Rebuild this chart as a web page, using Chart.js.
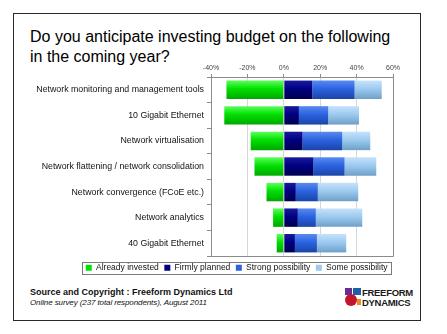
<!DOCTYPE html>
<html>
<head>
<meta charset="utf-8">
<script src="https://cdn.jsdelivr.net/npm/chart.js@4/dist/chart.umd.min.js"></script>
<style>
  html, body { margin: 0; padding: 0; background: #fff; }
  #wrap { position: relative; width: 447px; height: 334px; overflow: hidden; font-family: "Liberation Sans", Arial, sans-serif; }
  #frame { position: absolute; left: 13px; top: 13px; width: 406px; height: 306px; border: 1.5px solid #2a2a2a; }
  #title { position: absolute; left: 30px; top: 26.5px; font-size: 16px; line-height: 20px; color: #000; white-space: nowrap; }
  #cv { position: absolute; left: 30px; top: 58px; }
  #src { position: absolute; left: 30px; top: 287px; font-size: 9px; font-weight: bold; color: #111; white-space: nowrap; }
  #survey { position: absolute; left: 30px; top: 298px; font-size: 8px; font-style: italic; color: #111; white-space: nowrap; letter-spacing: -0.1px; }
  #logo { position: absolute; left: 345px; top: 288px; width: 64px; height: 19px; }
  #logo div { position: absolute; }
  .lt { font-family: "Liberation Sans Narrow", "Liberation Sans", Arial, sans-serif; font-weight: bold; font-size: 9.5px; line-height: 9px; color: #1a1a1a; letter-spacing: -0.3px; left: 17px; white-space: nowrap; }
</style>
</head>
<body>
<div id="wrap">
  <div id="frame"></div>
  <div id="title">Do you anticipate investing budget on the following<br>in the coming year?</div>
  <canvas id="cv" width="416" height="224"></canvas>
  <div id="src">Source and Copyright : Freeform Dynamics Ltd</div>
  <div id="survey">Online survey (237 total respondents), August 2011</div>
  <div id="logo">
    <div style="left:0;top:0;width:7px;height:7px;background:#6a2c8e;"></div>
    <div style="left:8px;top:0;width:8px;height:7px;background:#1f5fa8;"></div>
    <div style="left:0;top:6px;width:12px;height:12px;border-radius:6px;background:#c0172d;"></div>
    <div style="left:12px;top:11px;width:4px;height:6px;background:#f08a1c;"></div>
    <div class="lt" style="top:0;">FREEFORM</div>
    <div class="lt" style="top:10px;">DYNAMICS</div>
  </div>
</div>
<script>
const categories = [
  "Network monitoring and management tools",
  "10 Gigabit Ethernet",
  "Network virtualisation",
  "Network flattening / network consolidation",
  "Network convergence (FCoE etc.)",
  "Network analytics",
  "40 Gigabit Ethernet"
];
const seriesNames = ["Already invested", "Firmly planned", "Strong possibility", "Some possibility"];
const alreadyInvested   = [-31.5, -32.7, -18.2, -16.1, -9.5, -5.9, -3.9];
const firmlyPlanned     = [15.6, 8.3, 10.3, 16.3, 6.6, 7.7, 6.1];
const strongPossibility = [23.3, 16.1, 21.8, 17.1, 12.1, 9.9, 12.1];
const somePossibility   = [14.9, 16.9, 15.4, 17.4, 22.2, 25.5, 16.1];
const xTickValues = [-40, -20, 0, 20, 40, 60];

const palette = [
  ["#5cff5c", "#00e000", "#00a800"],
  ["#1a1aa0", "#000080", "#000050"],
  ["#5a8af0", "#2b63e0", "#1a44a8"],
  ["#c6e2fa", "#9ccaf0", "#6f9fc8"]
];
const BAR_FRACTION = 0.9 * 0.8;

function gradFor(idx) {
  return function (ctx) {
    const chart = ctx.chart;
    const y = chart.scales && chart.scales.y;
    if (!y || !chart.chartArea || ctx.dataIndex === undefined) return palette[idx][1];
    const c = y.getPixelForValue(ctx.dataIndex);
    const h = (y.height / categories.length) * BAR_FRACTION;
    const g = chart.ctx.createLinearGradient(0, c - h / 2, 0, c + h / 2);
    g.addColorStop(0, palette[idx][0]);
    g.addColorStop(0.45, palette[idx][1]);
    g.addColorStop(1, palette[idx][2]);
    return g;
  };
}

const seriesData = [alreadyInvested, firmlyPlanned, strongPossibility, somePossibility];

const frameBox = {
  id: 'frameBox',
  afterDraw(chart) {
    const ctx = chart.ctx, a = chart.chartArea;
    ctx.save();
    ctx.strokeStyle = '#8c8c8c';
    ctx.lineWidth = 1;
    ctx.beginPath();
    ctx.moveTo(Math.round(a.right) + 0.5, a.top);
    ctx.lineTo(Math.round(a.right) + 0.5, Math.round(a.bottom) + 0.5);
    ctx.lineTo(a.left, Math.round(a.bottom) + 0.5);
    ctx.stroke();
    const hb = chart.legend && chart.legend.legendHitBoxes;
    if (hb && hb.length) {
      let l = Infinity, r = -Infinity, t = Infinity, b = -Infinity;
      hb.forEach(h => { l = Math.min(l, h.left); r = Math.max(r, h.left + h.width); t = Math.min(t, h.top); b = Math.max(b, h.top + h.height); });
      ctx.strokeStyle = '#7a7a7a';
      ctx.strokeRect(Math.round(l) - 3.5, Math.round(t) - 1.5, Math.round(r - l) + 7, Math.round(b - t) + 3);
    }
    ctx.restore();
  }
};

new Chart(document.getElementById('cv'), {
  type: 'bar',
  data: {
    labels: categories,
    datasets: seriesNames.map((n, i) => ({
      label: n,
      data: seriesData[i],
      backgroundColor: gradFor(i),
      borderWidth: 0,
      barPercentage: 0.8,
      categoryPercentage: 0.9
    }))
  },
  options: {
    indexAxis: 'y',
    responsive: false,
    animation: false,
    devicePixelRatio: 1,
    layout: { padding: { right: 53, left: 0, top: 0, bottom: 0 } },
    scales: {
      x: {
        position: 'top',
        stacked: true,
        min: -40, max: 60,
        afterBuildTicks(s) { s.ticks = xTickValues.map(v => ({ value: v })); },
        afterFit(s) { s.height = 19; },
        ticks: {
          callback: v => v + '%',
          font: { family: 'Liberation Sans, Arial', size: 7 },
          color: '#444',
          padding: 2,
          maxRotation: 0
        },
        grid: { color: '#d6d6d6', tickColor: '#8c8c8c', tickLength: 3, lineWidth: 1 },
        border: { color: '#8c8c8c' }
      },
      y: {
        stacked: true,
        afterFit(s) { s.width = 181; },
        ticks: {
          font: { family: 'Liberation Sans, Arial', size: 8.8 },
          color: '#111',
          padding: 3
        },
        grid: { offset: true, drawOnChartArea: false, color: '#8c8c8c', tickLength: 4 },
        border: { color: '#8c8c8c' }
      }
    },
    plugins: {
      legend: {
        position: 'bottom',
        align: 'end',
        title: { display: true, text: '', color: '#111', padding: 0, font: { size: 2, lineHeight: 1 } },
        labels: {
          boxWidth: 6, boxHeight: 6,
          padding: 5.5,
          color: '#111',
          font: { family: 'Liberation Sans, Arial', size: 8.5 },
          generateLabels(chart) {
            return seriesNames.map((n, i) => ({
              text: n, fillStyle: palette[i][1], strokeStyle: palette[i][1], lineWidth: 0,
              fontColor: '#111', datasetIndex: i, hidden: false
            }));
          }
        }
      },
      tooltip: { enabled: false }
    }
  },
  plugins: [frameBox]
});
</script>
</body>
</html>
